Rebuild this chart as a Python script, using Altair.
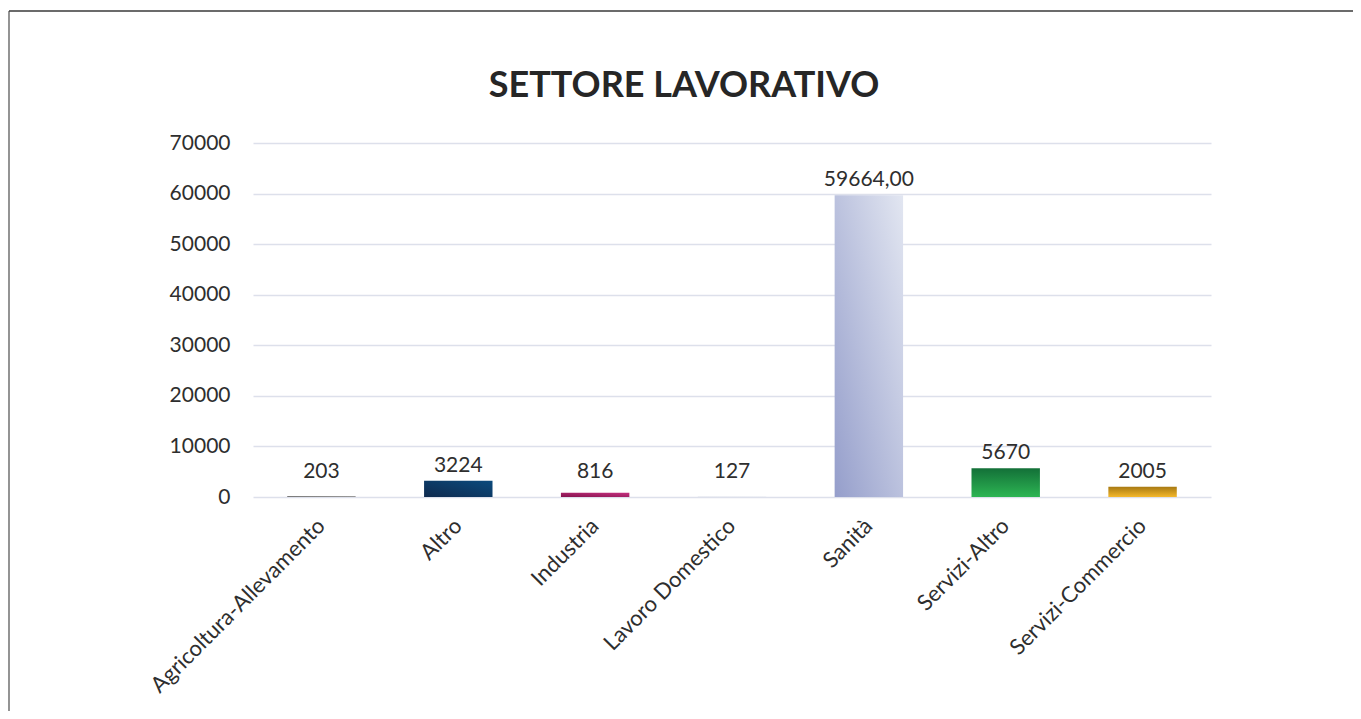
import altair as alt
import pandas as pd

categories = ["Agricoltura-Allevamento", "Altro", "Industria", "Lavoro Domestico",
              "Sanità", "Servizi-Altro", "Servizi-Commercio"]
values = [203, 3224, 816, 127, 59664, 5670, 2005]
labels = ["203", "3224", "816", "127", "59664,00", "5670", "2005"]
y_ticks = [0, 10000, 20000, 30000, 40000, 50000, 60000, 70000]
title_text = "SETTORE LAVORATIVO"

df = pd.DataFrame({"cat": categories, "value": values, "label": labels})


def grad(c0, c1, x1, y1, x2, y2):
    return alt.LinearGradient(
        gradient="linear",
        stops=[alt.GradientStop(offset=0, color=c0), alt.GradientStop(offset=1, color=c1)],
        x1=x1, y1=y1, x2=x2, y2=y2,
    )


fills = {
    "Agricoltura-Allevamento": grad("#7a7a7a", "#9a9a9a", 0, 0, 1, 0),
    "Altro": grad("#0f2a4e", "#0b4a7d", 0, 1, 1, 0),
    "Industria": grad("#84124c", "#c4307f", 0, 1, 1, 0),
    "Lavoro Domestico": grad("#e4e6ee", "#eef0f5", 0, 1, 1, 0),
    "Sanità": grad("#959ecb", "#e2e6f1", 0, 1, 1, 0),
    "Servizi-Altro": grad("#137038", "#2db553", 0, 0, 0, 1),
    "Servizi-Commercio": grad("#a87a12", "#f4b82c", 0, 0, 0, 1),
}

FONT = "Lato"
TXT = "#2e2e2e"

x_enc = alt.X(
    "cat:N",
    sort=categories,
    scale=alt.Scale(domain=categories, paddingInner=0.5, paddingOuter=0.25),
    axis=alt.Axis(title=None, labelAngle=-45, labelAlign="right", labelBaseline="middle",
                  labelPadding=25, labelLimit=0, ticks=False, tickSize=0, domain=False,
                  grid=False, labelFont=FONT, labelFontSize=22, labelColor=TXT),
)

y_axis = alt.Axis(title=None, values=y_ticks, format="d", ticks=False, tickSize=0,
                  domain=False, labelPadding=23, grid=True, gridColor="#dde0eb",
                  gridWidth=1.6, labelFont=FONT, labelFontSize=21, labelColor=TXT)
y_scale = alt.Scale(domain=[0, 70000], nice=False)

base = alt.Chart(df)

layers = []
for c in categories:
    layers.append(
        base.mark_bar(fill=fills[c]).encode(
            x=x_enc,
            y=alt.Y("value:Q", scale=y_scale, axis=y_axis),
        ).transform_filter(alt.datum.cat == c)
    )

text = base.transform_calculate(ly="max(datum.value, 2000)").mark_text(
    font=FONT, fontSize=21, color=TXT, baseline="alphabetic", dy=-9
).encode(
    x=x_enc,
    y=alt.Y("ly:Q", scale=y_scale, axis=y_axis),
    text="label:N",
)

one = alt.Chart(pd.DataFrame({"t": [title_text]}))
title_mark = one.mark_text(font=FONT, fontSize=36, fontWeight="bold", color="#262626",
                           align="center", baseline="alphabetic").encode(
    x=alt.value(431), y=alt.value(-46), text="t:N")
left_border = one.mark_rule(color="#5a5a5a", strokeWidth=1.3).encode(
    x=alt.value(-244), y=alt.value(-132), y2=alt.value(568))
top_border = one.mark_rule(color="#3a3a3a", strokeWidth=1.3).encode(
    x=alt.value(-244), x2=alt.value(1100), y=alt.value(-132))

chart = alt.layer(*layers, text, title_mark, left_border, top_border).properties(
    width=958,
    height=354,
    autosize=alt.AutoSizeParams(type="none"),
    padding={"left": 245, "top": 135, "right": 142, "bottom": 214},
    background="white",
).configure_view(stroke=None)

chart.save("out.html", embed_options={"renderer": "svg", "actions": False})
